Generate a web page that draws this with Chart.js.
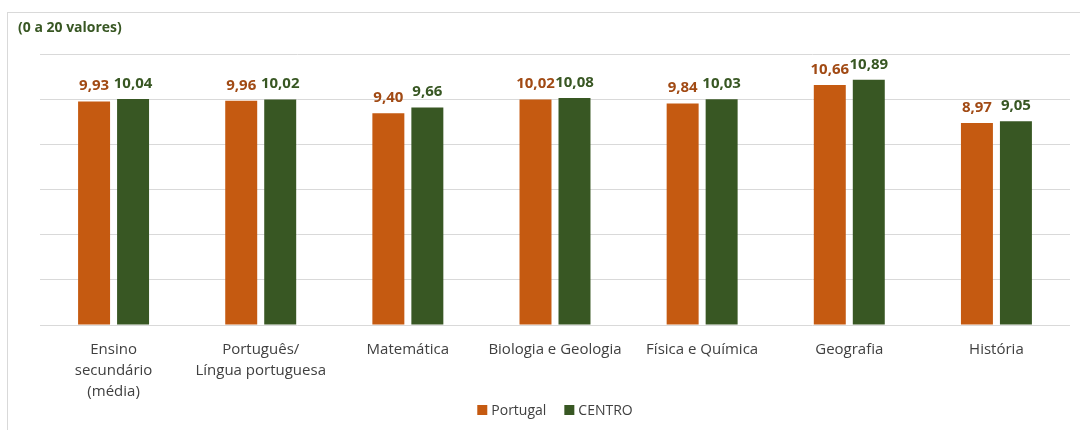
<!DOCTYPE html>
<html>
<head>
<meta charset="utf-8">
<script src="https://cdn.jsdelivr.net/npm/chart.js@4"></script>
<style>
  body { margin: 0; background: #fff; }
  #wrap { width: 1080px; height: 430px; position: relative; }
</style>
</head>
<body>
<div id="wrap"><canvas id="myChart" width="1080" height="430"></canvas></div>
<script>
var categories = [
  ['Ensino', 'secundário', '(média)'],
  ['Português/', 'Língua portuguesa'],
  'Matemática',
  'Biologia e Geologia',
  'Física e Química',
  'Geografia',
  'História'
];
var portugal = [9.93, 9.96, 9.40, 10.02, 9.84, 10.66, 8.97];
var centro = [10.04, 10.02, 9.66, 10.08, 10.03, 10.89, 9.05];
var yTicks = [0, 2, 4, 6, 8, 10, 12];

var FONT = '"Open Sans", sans-serif';

// frame, value labels above the bars and a compact legend at the bottom
var extras = {
  id: 'extras',
  beforeDraw: function (chart) {
    var c = chart.ctx;
    c.save();
    c.strokeStyle = '#d9d9d9';
    c.lineWidth = 1;
    c.strokeRect(7.5, 12.5, 1100, 440);
    c.restore();
  },
  afterDatasetsDraw: function (chart) {
    var c = chart.ctx;
    c.save();
    c.font = 'bold 15px ' + FONT;
    c.textAlign = 'center';
    c.textBaseline = 'alphabetic';
    chart.data.datasets.forEach(function (ds, i) {
      chart.getDatasetMeta(i).data.forEach(function (bar, j) {
        c.fillStyle = ds.labelColor;
        c.fillText(ds.data[j].toFixed(2).replace('.', ','), bar.x, bar.y - 11);
      });
    });
    c.restore();
  },
  afterDraw: function (chart) {
    var c = chart.ctx;
    var box = 10, gapText = 4, gapItem = 18, y = 410;
    c.save();
    c.font = '14px ' + FONT;
    c.textBaseline = 'middle';
    var items = chart.data.datasets.map(function (ds) {
      return { ds: ds, w: box + gapText + c.measureText(ds.label).width };
    });
    var total = items.reduce(function (s, it) { return s + it.w; }, 0) + gapItem * (items.length - 1);
    var x = (chart.chartArea.left + chart.chartArea.right) / 2 - total / 2;
    items.forEach(function (it) {
      c.fillStyle = it.ds.backgroundColor;
      c.fillRect(x, y - box / 2, box, box);
      c.fillStyle = '#404040';
      c.fillText(it.ds.label, x + box + gapText, y + 1);
      x += it.w + gapItem;
    });
    c.restore();
  }
};

var ctx = document.getElementById('myChart').getContext('2d');
var myChart = new Chart(ctx, {
  type: 'bar',
  data: {
    labels: categories,
    datasets: [{
      label: 'Portugal',
      data: portugal,
      backgroundColor: '#C55A11',
      labelColor: '#A14A14',
      barPercentage: 0.82,
      categoryPercentage: 0.53
    }, {
      label: 'CENTRO',
      data: centro,
      backgroundColor: '#385723',
      labelColor: '#385723',
      barPercentage: 0.82,
      categoryPercentage: 0.53
    }]
  },
  options: {
    responsive: false,
    animation: false,
    layout: { padding: { left: 18, right: 10, top: 20, bottom: 22 } },
    plugins: {
      title: {
        display: true,
        text: '(0 a 20 valores)',
        align: 'start',
        color: '#385723',
        font: { family: FONT, size: 14, weight: 'bold' },
        padding: { top: 0, bottom: 18 }
      },
      legend: { display: false },
      tooltip: { enabled: false }
    },
    scales: {
      x: {
        grid: { display: false },
        border: { display: false },
        ticks: {
          color: '#404040',
          padding: 6,
          maxRotation: 0,
          font: { family: FONT, size: 15, lineHeight: 1.4 }
        }
      },
      y: {
        min: 0,
        max: 12,
        afterBuildTicks: function (scale) {
          scale.ticks = yTicks.map(function (v) { return { value: v }; });
        },
        afterFit: function (scale) { scale.width = 22; },
        grid: { color: '#d9d9d9', drawTicks: false },
        border: { display: false },
        ticks: { display: false }
      }
    }
  },
  plugins: [extras]
});
</script>
</body>
</html>
